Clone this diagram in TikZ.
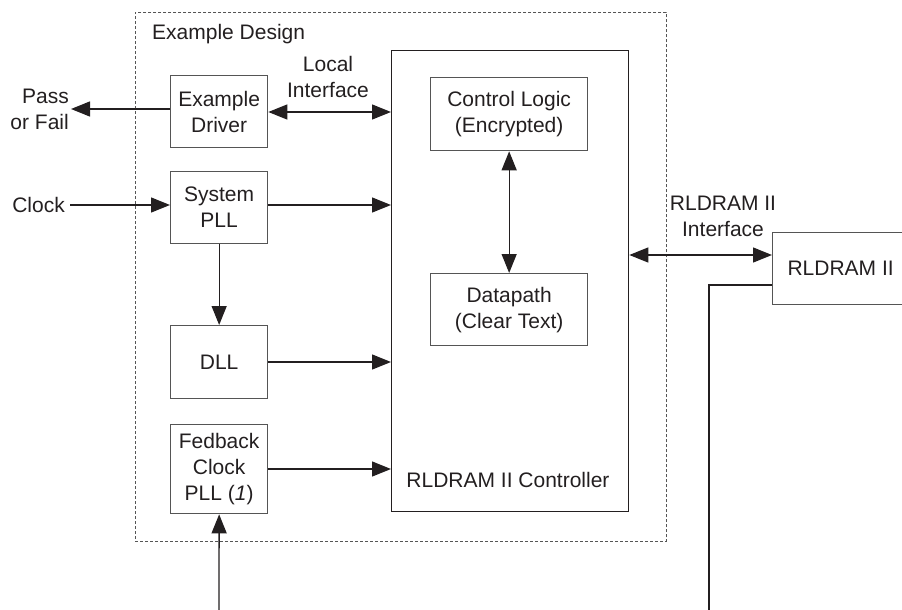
\documentclass[tikz,border=0pt]{standalone}
\usepackage{fontspec}
\setmainfont{Liberation Sans}
\usetikzlibrary{arrows.meta,calc}
\definecolor{ink}{HTML}{231F20}
\definecolor{boxline}{HTML}{555555}
\tikzset{
  blk/.style={draw=boxline,line width=1.3pt,minimum width=97pt,minimum height=72pt,inner sep=0pt,align=center,anchor=north west,text=ink},
  lbl/.style={inner sep=2pt,align=center,text=ink},
  arr/.style={draw=ink,line width=1.3pt,-{Triangle[length=19pt,width=15pt]}},
  darr/.style={draw=ink,line width=1.3pt,{Triangle[length=19pt,width=15pt]}-{Triangle[length=19pt,width=15pt]}},
  wire/.style={draw=ink,line width=1.3pt},
}
\begin{document}
\begin{tikzpicture}[x=1pt,y=-1pt,font=\fontsize{21}{26}\selectfont]
\useasboundingbox (0,0) rectangle (902,610);
\clip (0,0) rectangle (902,610);
% outer dashed Example Design box
\node[draw=boxline,line width=0.9pt,dash pattern=on 3pt off 2pt,minimum width=531pt,minimum height=529pt,anchor=north west,inner sep=0pt] (ed) at (135,12) {};
\node[lbl,anchor=west] (edl) at (150,34) {Example Design};
% controller
\node[draw=ink,line width=1.3pt,minimum width=237pt,minimum height=461pt,anchor=north west,inner sep=0pt] (ctrl) at (391,50) {};
\node[lbl] (ctrll) at (508,480) {RLDRAM II Controller};
\node[blk,minimum width=157pt,minimum height=73pt] (cl) at (430,77) {Control Logic\\(Encrypted)};
\node[blk,minimum width=157pt,minimum height=72pt] (dp) at (430,273) {Datapath\\(Clear Text)};
% left column blocks
\node[blk] (drv) at (170,75) {Example\\Driver};
\node[blk] (spll) at (170,171) {System\\PLL};
\node[blk,minimum height=73pt] (dll) at (170,325) {DLL};
\node[blk,minimum height=89pt] (fb) at (170,424) {Fedback\\Clock\\PLL (\textit{1})};
% RLDRAM II device
\node[blk,minimum width=136pt,minimum height=72pt] (rl) at (772,232) {RLDRAM II};
% outside labels
\node[lbl,anchor=east,align=right] (pf) at (71,109) {Pass\\or Fail};
\node[lbl,anchor=east,inner xsep=5pt] (clk) at (70,205) {Clock};
\node[lbl] (li) at (328,77) {Local\\Interface};
\node[lbl] (ri) at (723,216) {RLDRAM II\\Interface};
% coordinates
\coordinate (pfa) at (170,109);
\coordinate (ifr) at (772,255);
\coordinate (rlo) at (772,285);
\coordinate (bot2) at (709,610);
\coordinate (fbin) at (219,610);
% connectors
\draw[arr] (pfa) -- (pf.east |- pfa);
\draw[darr] (drv.east |- 0,112) -- (ctrl.west |- 0,112);
\draw[arr] (clk.east) -- (clk.east -| spll.west);
\draw[arr] (spll.east |- 0,205) -- (ctrl.west |- 0,205);
\draw[arr] (spll.south) -- (dll.north);
\draw[arr] (dll.east |- 0,362) -- (ctrl.west |- 0,362);
\draw[arr] (fb.east |- 0,469) -- (ctrl.west |- 0,469);
\draw[arr] (fbin) -- (fb.south);
\draw[darr] (cl.south) -- (dp.north);
\draw[darr] (ifr -| ctrl.east) -- (ifr);
\draw[wire] (rlo) -| (bot2);
\end{tikzpicture}
\end{document}
